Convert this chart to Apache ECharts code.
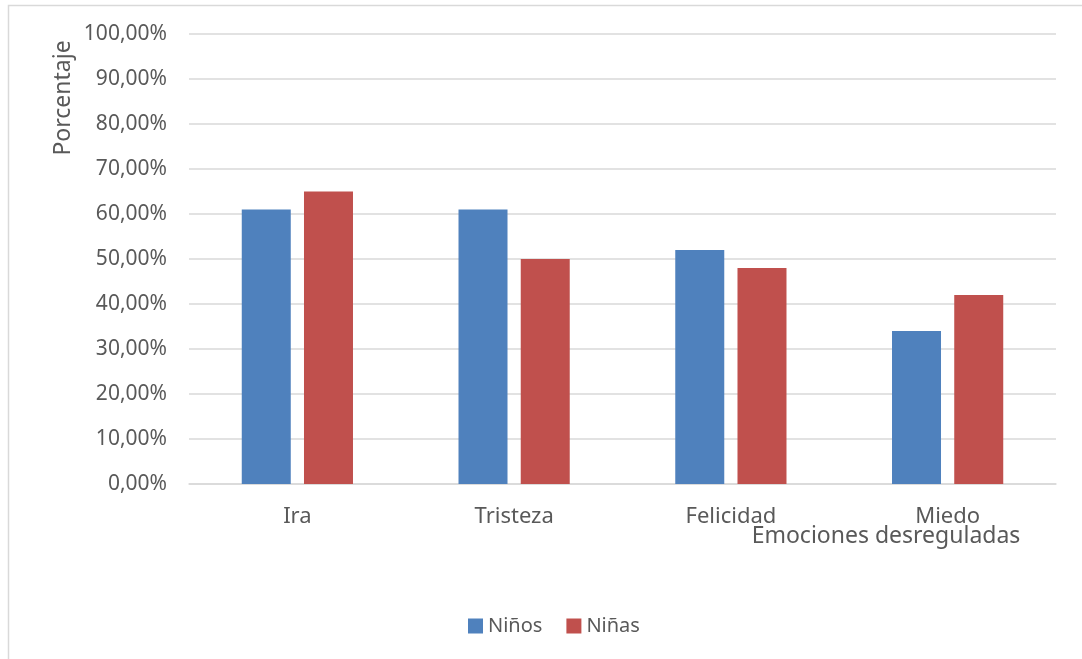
<!DOCTYPE html>
<html>

<head>
  <meta charset="utf-8">
  <title>Emociones desreguladas</title>
  <script src="https://cdn.jsdelivr.net/npm/echarts@6/dist/echarts.min.js"></script>
  <style>
    html, body { margin: 0; padding: 0; background: #fff; }
  </style>
</head>

<body>
  <div id="chart" style="width: 1082px;height:659px;"></div>
  <script>
    // datos (porcentaje)
    const categorias = ["Ira", "Tristeza", "Felicidad", "Miedo"];
    const ninos = [61, 61, 52, 34];
    const ninas = [65, 50, 48, 42];

    const FONT = "'Noto Sans', 'Open Sans', sans-serif";
    const GRIS = "#595959";

    let myChart = echarts.init(document.getElementById('chart'));
    let option = {
      backgroundColor: '#fff',
      textStyle: { fontFamily: FONT },
      grid: {
        left: 189,
        right: 26,
        top: 34,
        bottom: 175
      },
      legend: {
        data: ["Niños", "Niñas"],
        bottom: 18,
        left: 463,
        itemWidth: 15,
        itemHeight: 15,
        itemGap: 24,
        icon: 'rect',
        textStyle: { color: GRIS, fontSize: 20, fontFamily: FONT }
      },
      xAxis: {
        type: 'category',
        data: categorias,
        axisLine: { lineStyle: { color: '#d9d9d9', width: 1.5 } },
        axisTick: { show: false },
        axisLabel: { color: GRIS, fontSize: 22, margin: 22, fontFamily: FONT }
      },
      yAxis: {
        type: 'value',
        min: 0,
        max: 100,
        interval: 10,
        axisLine: { show: false },
        axisTick: { show: false },
        splitLine: { lineStyle: { color: '#d9d9d9', width: 1.5 } },
        axisLabel: {
          color: GRIS,
          fontSize: 21,
          margin: 22,
          fontFamily: FONT,
          formatter: function (v) {
            return v.toFixed(2).replace('.', ',') + '%';
          }
        }
      },
      series: [
        {
          name: "Niños",
          type: 'bar',
          data: ninos,
          barWidth: 49,
          barGap: '27%',
          itemStyle: { color: '#4f81bd' }
        },
        {
          name: "Niñas",
          type: 'bar',
          data: ninas,
          barWidth: 49,
          itemStyle: { color: '#c0504d' }
        }
      ],
      graphic: [
        {
          type: 'rect',
          shape: { x: 8.5, y: 5.5, width: 1200, height: 800 },
          style: { fill: 'none', stroke: '#d9d9d9', lineWidth: 1.5 },
          silent: true
        },
        {
          type: 'text',
          x: 63,
          y: 98,
          rotation: Math.PI / 2,
          style: {
            text: 'Porcentaje',
            fill: GRIS,
            fontSize: 23,
            fontFamily: FONT,
            align: 'center',
            verticalAlign: 'middle'
          }
        },
        {
          type: 'text',
          x: 886,
          y: 536,
          style: {
            text: 'Emociones desreguladas',
            fill: GRIS,
            fontSize: 23,
            fontFamily: FONT,
            align: 'center',
            verticalAlign: 'middle'
          }
        }
      ]
    };
    myChart.setOption(option);
  </script>

</body>

</html>
